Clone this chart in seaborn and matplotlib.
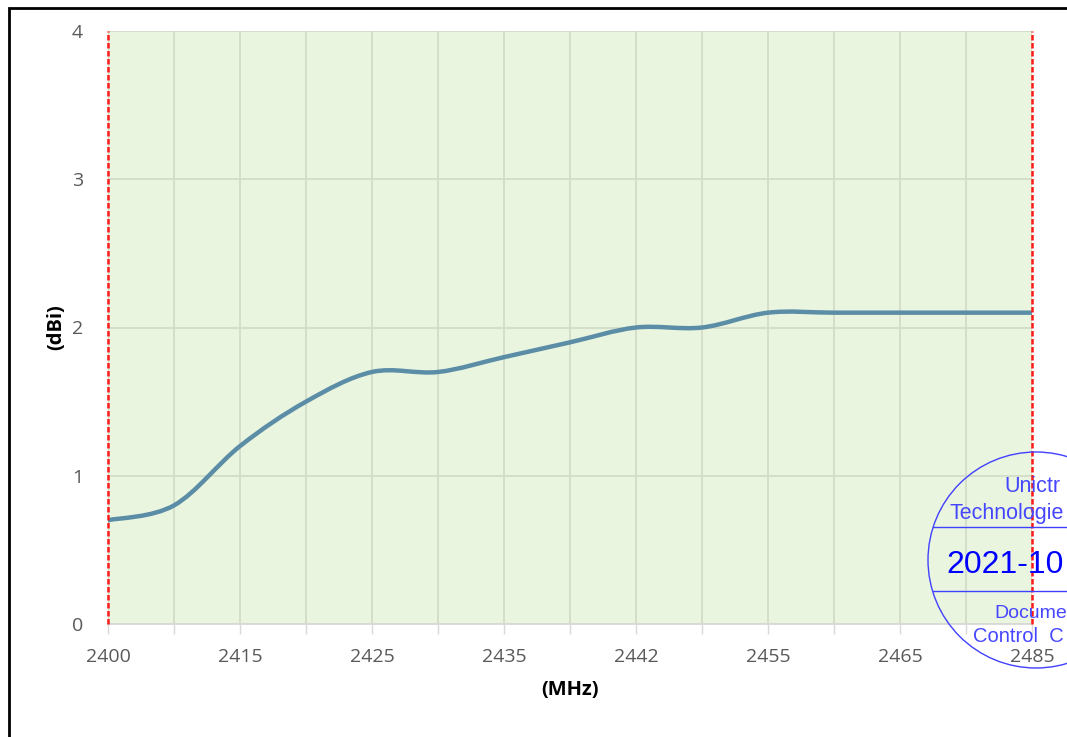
import numpy as np
import pandas as pd
import matplotlib.pyplot as plt
import seaborn as sns
from matplotlib.path import Path
from matplotlib.patches import PathPatch, Rectangle, Ellipse
from matplotlib.lines import Line2D

# Gain readings (one per grid column)
freq_labels = ['2400', '', '2415', '', '2425', '', '2435', '', '2442', '', '2455', '', '2465', '', '2485']
gain_dbi = [0.7, 0.8, 1.2, 1.5, 1.7, 1.7, 1.8, 1.9, 2.0, 2.0, 2.1, 2.1, 2.1, 2.1, 2.1]
y_ticks = [0, 1, 2, 3, 4]

df = pd.DataFrame({'pos': np.arange(len(gain_dbi)), 'gain': gain_dbi})

sns.set_style('white')
plt.rcParams['font.family'] = ['Open Sans', 'DejaVu Sans']

fig = plt.figure(figsize=(10.67, 7.37), dpi=100)
ax = fig.add_axes([108 / 1067, 113 / 737, 924 / 1067, 593 / 737])
ax.set_facecolor('#E9F5DF')

# seaborn draws the series; the line is then redrawn as a smoothed curve (Excel style)
sns.lineplot(data=df, x='pos', y='gain', ax=ax, color='#5B8DA6', linewidth=3.2)
line = ax.get_lines()[0]
line.set_visible(False)

xs = df['pos'].to_numpy(float)
ys = df['gain'].to_numpy(float)
pts = np.column_stack([xs, ys])
verts = [pts[0]]
codes = [Path.MOVETO]
n = len(pts)
for i in range(n - 1):
    p0 = pts[i - 1] if i > 0 else pts[i]
    p1 = pts[i]
    p2 = pts[i + 1]
    p3 = pts[i + 2] if i + 2 < n else pts[i + 1]
    c1 = p1 + (p2 - p0) / 6
    c2 = p2 - (p3 - p1) / 6
    verts += [c1, c2, p2]
    codes += [Path.CURVE4] * 3
curve = PathPatch(Path(verts, codes), facecolor='none', edgecolor='#5B8DA6',
                  linewidth=3.2, capstyle='round', zorder=4)
ax.add_patch(curve)

ax.set_xlim(0, len(gain_dbi) - 1)
ax.set_ylim(0, 4)
ax.set_xticks(df['pos'])
ax.set_xticklabels(freq_labels)
ax.set_yticks(y_ticks)
ax.grid(True, color='#D2DCC8', linewidth=1.3)
ax.set_axisbelow(True)

for s in ['top', 'right', 'left']:
    ax.spines[s].set_visible(False)
ax.spines['bottom'].set_color('#D9D9D9')
ax.spines['bottom'].set_linewidth(1.3)
ax.tick_params(axis='x', length=7, width=1, color='#D9D9D9', pad=10,
               labelsize=14, labelcolor='#595959', bottom=True)
ax.tick_params(axis='y', length=0, pad=18, labelsize=14, labelcolor='#595959')

# band edges
for xv in [0, len(gain_dbi) - 1]:
    ax.axvline(xv, color='#FF1A1A', linestyle=(0, (2.2, 1.0)), linewidth=1.8, zorder=5, clip_on=False)

ax.set_xlabel('(MHz)', fontsize=14.5, fontweight='bold', color='black', labelpad=10)
ax.set_ylabel('(dBi)', fontsize=14.5, fontweight='bold', color='black', labelpad=4)

# outer frame
fig.patches.append(Rectangle((9 / 1067, -0.1), 1.2, (737 - 8) / 737 + 0.1, transform=fig.transFigure,
                             fill=False, edgecolor='black', linewidth=2, zorder=0))

# document control stamp (cut off at the right edge like the source)
W, H = 1067, 737
cx, cy, r = 1036, 560, 108
fig.patches.append(Ellipse((cx / W, 1 - cy / H), 2 * r / W, 2 * r / H, transform=fig.transFigure,
                           fill=False, edgecolor='#4040FF', linewidth=1, zorder=10))
for yy in [527, 591]:
    dx = np.sqrt(r ** 2 - (yy - cy) ** 2)
    fig.lines.append(Line2D([(cx - dx) / W, 1.0], [1 - yy / H, 1 - yy / H], transform=fig.transFigure,
                            color='#4040FF', linewidth=1, zorder=10))
stamp = dict(family=['Liberation Sans', 'DejaVu Sans'], color='#4646FF', ha='left', va='center', zorder=11)
fig.text(1004 / W, 1 - 486 / H, 'Unictr', fontsize=15.5, **stamp)
fig.text(949 / W, 1 - 514 / H, 'Technologie', fontsize=15.5, **stamp)
fig.text(946 / W, 1 - 565 / H, '2021-10', fontsize=23, family=['Liberation Sans', 'DejaVu Sans'],
         color='#0000FF', ha='left', va='center', zorder=11)
fig.text(994 / W, 1 - 613 / H, 'Docume', fontsize=14, **stamp)
fig.text(973 / W, 1 - 637 / H, 'Control  C', fontsize=14.5, **stamp)

fig.savefig('out.png', dpi=100)
